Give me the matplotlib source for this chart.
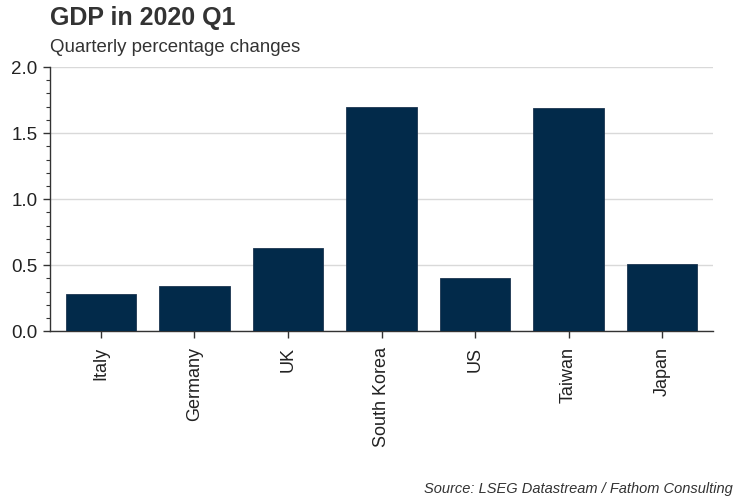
import matplotlib
matplotlib.use("Agg")
import matplotlib.pyplot as plt
from matplotlib.ticker import MultipleLocator, FormatStrFormatter

countries = ["Italy", "Germany", "UK", "South Korea", "US", "Taiwan", "Japan"]
gdp_change = [0.28, 0.34, 0.63, 1.70, 0.40, 1.69, 0.51]

title = "GDP in 2020 Q1"
subtitle = "Quarterly percentage changes"
source = "Source: LSEG Datastream / Fathom Consulting"

plt.rcParams['font.family'] = ['Liberation Sans', 'DejaVu Sans']

fig = plt.figure(figsize=(7.5, 5), dpi=100)
ax = fig.add_axes([50/750, 1 - 331.3/500, (713-50)/750, (331.3-67)/500])

x = list(range(len(countries)))
ax.bar(x, gdp_change, width=0.75, color="#022a4a", edgecolor="#1c3550", linewidth=0.6, zorder=3)

ax.set_xlim(-0.545, 6.545)
ax.set_ylim(0, 2.0)
ax.yaxis.set_major_locator(MultipleLocator(0.5))
ax.yaxis.set_minor_locator(MultipleLocator(0.1))
ax.yaxis.set_major_formatter(FormatStrFormatter('%.1f'))
ax.grid(axis='y', which='major', color='#d9d9d9', linewidth=1, zorder=0)
ax.set_axisbelow(True)

ax.set_xticks(x)
ax.set_xticklabels(countries, rotation=90, fontsize=13, color='#222222')
ax.tick_params(axis='y', which='major', labelsize=13.5, length=5, width=1, color='#333333', labelcolor='#222222', pad=4)
ax.tick_params(axis='y', which='minor', length=3, width=0.8, color='#333333')
ax.tick_params(axis='x', length=5, width=1, color='#333333', pad=6)

for s in ['top', 'right']:
    ax.spines[s].set_visible(False)
for s in ['left', 'bottom']:
    ax.spines[s].set_color('#333333')
    ax.spines[s].set_linewidth(1)

fig.text(50/750, 1 - 18/500, title, fontsize=18, fontweight='bold', color='#333333', va='center', ha='left')
fig.text(50/750, 1 - 47/500, subtitle, fontsize=13.4, color='#333333', va='center', ha='left')
fig.text(733/750, 1 - 489/500, source, fontsize=10.5, style='italic', color='#333333', va='center', ha='right')

fig.savefig("out.png", dpi=100)
